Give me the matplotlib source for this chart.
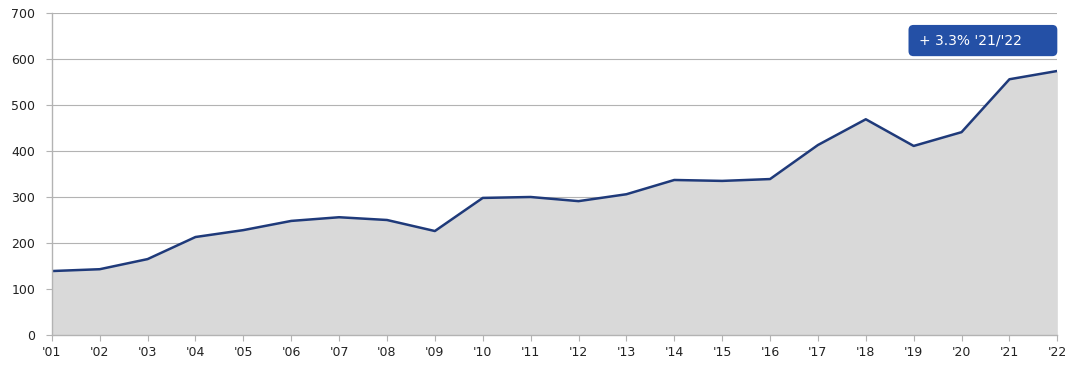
import matplotlib.pyplot as plt
from matplotlib.patches import FancyBboxPatch

# ── Data ──────────────────────────────────────────────────────────────────────
years  = ["'01", "'02", "'03", "'04", "'05", "'06", "'07", "'08", "'09", "'10", "'11",
          "'12", "'13", "'14", "'15", "'16", "'17", "'18", "'19", "'20", "'21", "'22"]
values = [139, 143, 165, 213, 228, 248, 256, 250, 226, 298, 300,
          291, 306, 337, 335, 339, 413, 469, 411, 441, 556, 574]
yticks = [0, 100, 200, 300, 400, 500, 600, 700]
note   = "+ 3.3% '21/'22"

LINE = "#1f3a7a"
FILL = "#d9d9d9"
GRID = "#b3b3b3"
BOX  = "#2450a6"

fig = plt.figure(figsize=(10.8, 3.72), dpi=100)
ax = fig.add_axes([0.048, 0.0995, 0.931, 0.8655])

x = list(range(len(years)))
ax.fill_between(x, values, 0, color=FILL, lw=0, zorder=2)
ax.plot(x, values, color=LINE, lw=1.8, zorder=3)

ax.set_xlim(0, len(years) - 1)
ax.set_ylim(0, 700)
ax.set_xticks(x)
ax.set_xticklabels(years)
ax.set_yticks(yticks)
ax.grid(axis="y", color=GRID, lw=0.8, zorder=1)
ax.set_axisbelow(True)

for s in ["top", "right"]:
    ax.spines[s].set_visible(False)
for s in ["left", "bottom"]:
    ax.spines[s].set_color(GRID)
    ax.spines[s].set_linewidth(1.0)
    ax.spines[s].set_zorder(4)

ax.tick_params(axis="x", direction="out", length=4, color=GRID, labelsize=9,
               labelcolor="#222222", pad=4)
ax.tick_params(axis="y", direction="out", length=4, color=GRID, labelsize=9,
               labelcolor="#222222", pad=8)

# annotation box
box = FancyBboxPatch((0.852, 0.866), 0.148, 0.097, transform=ax.transAxes,
                     boxstyle="round,pad=0,rounding_size=0.005",
                     fc=BOX, ec="none", zorder=5, clip_on=False,
                     mutation_aspect=3.1)
ax.add_patch(box)
ax.text(0.862, 0.914, note, transform=ax.transAxes, color="white",
        fontsize=10, ha="left", va="center", zorder=6)

fig.savefig("out.png", dpi=100)
